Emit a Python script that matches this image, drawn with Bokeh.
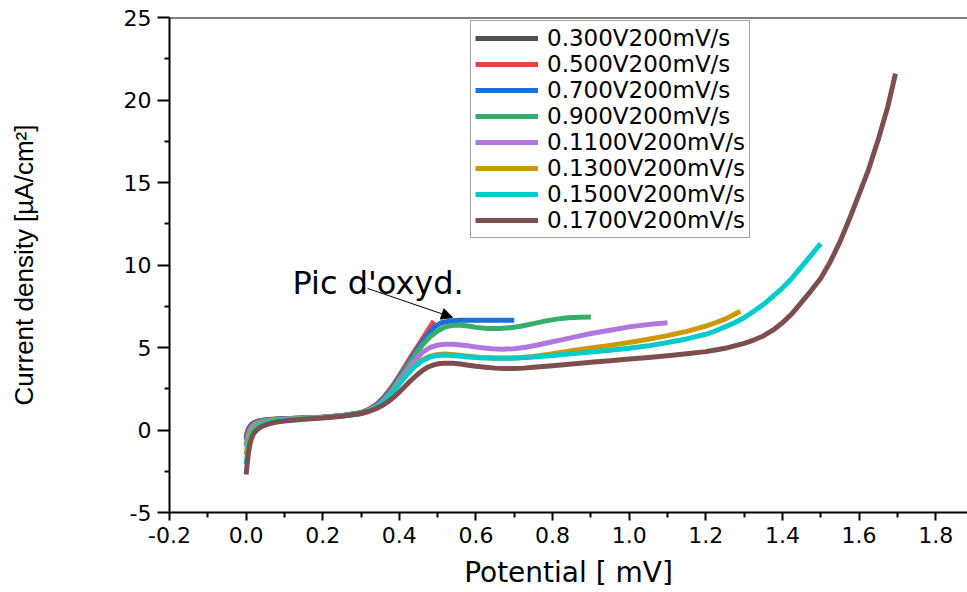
from bokeh.plotting import figure
from bokeh.models import (Range1d, Span, Arrow, NormalHead, Label, Legend, LegendItem,
                          FixedTicker, PrintfTickFormatter)
from bokeh.embed import file_html
from bokeh.resources import INLINE

# ---------------- data ----------------
labels = ["0.300V200mV/s", "0.500V200mV/s", "0.700V200mV/s", "0.900V200mV/s",
          "0.1100V200mV/s", "0.1300V200mV/s", "0.1500V200mV/s", "0.1700V200mV/s"]
colors = ["#515151", "#F14040", "#1A6FDF", "#37AD6B",
          "#B177DE", "#CC9900", "#00CBCC", "#7D4E4E"]

# common potentials of the start of every sweep
x_start = [0, 0.003, 0.006, 0.01, 0.015, 0.02, 0.03, 0.04, 0.06, 0.08, 0.1, 0.15, 0.2, 0.25]

x_03 = x_start + [0.3]
y_03 = [-0.4, -0.15, 0.05, 0.22, 0.35, 0.44, 0.53, 0.58, 0.63, 0.66, 0.68, 0.73, 0.78, 0.86,
        1.02]

x_05 = x_start + [0.3, 0.32, 0.34, 0.36, 0.38, 0.40, 0.42, 0.44, 0.46, 0.475, 0.49]
y_05 = [-0.5, -0.2, 0.02, 0.2, 0.33, 0.42, 0.52, 0.57, 0.62, 0.65, 0.68, 0.73, 0.78, 0.86,
        1.05, 1.25, 1.55, 2.0, 2.6, 3.3, 4.05, 4.8, 5.5, 6.05, 6.6]

x_07 = x_start + [0.3, 0.32, 0.34, 0.36, 0.38, 0.40, 0.42, 0.44, 0.46, 0.48, 0.495, 0.51,
                  0.53, 0.56, 0.6, 0.65, 0.7]
y_07 = [-0.6, -0.28, -0.02, 0.18, 0.32, 0.41, 0.51, 0.57, 0.62, 0.65, 0.68, 0.73, 0.78, 0.86,
        1.05, 1.22, 1.5, 1.95, 2.5, 3.2, 3.9, 4.65, 5.35, 5.95, 6.3, 6.5,
        6.6, 6.65, 6.65, 6.65, 6.65]

x_09 = x_start + [0.3, 0.32, 0.34, 0.36, 0.38, 0.40, 0.42, 0.44, 0.46, 0.48, 0.5, 0.52,
                  0.54, 0.56, 0.58, 0.6, 0.63, 0.66, 0.69, 0.72, 0.75, 0.78, 0.81, 0.84,
                  0.87, 0.9]
y_09 = [-0.9, -0.5, -0.2, 0.05, 0.22, 0.33, 0.46, 0.53, 0.6, 0.64, 0.67, 0.72, 0.78, 0.86,
        1.05, 1.2, 1.45, 1.85, 2.4, 3.1, 3.8, 4.5, 5.15, 5.65, 6.0, 6.25,
        6.35, 6.35, 6.3, 6.22, 6.15, 6.15, 6.2, 6.3, 6.45, 6.6, 6.72, 6.8,
        6.83, 6.85]

x_11 = x_start + [0.3, 0.32, 0.34, 0.36, 0.38, 0.40, 0.42, 0.44, 0.46, 0.48, 0.5, 0.52,
                  0.54, 0.56, 0.58, 0.61, 0.64, 0.67, 0.70, 0.73, 0.76, 0.8, 0.85, 0.9,
                  0.95, 1.0, 1.05, 1.1]
y_11 = [-1.0, -0.6, -0.3, -0.02, 0.17, 0.29, 0.43, 0.51, 0.58, 0.62, 0.65, 0.71, 0.77, 0.85,
        1.0, 1.18, 1.42, 1.8, 2.3, 2.95, 3.6, 4.2, 4.7, 5.0, 5.15, 5.2,
        5.2, 5.15, 5.1, 5.0, 4.93, 4.9, 4.93, 5.02, 5.15, 5.35, 5.6, 5.85,
        6.05, 6.25, 6.4, 6.5]

x_13 = x_start + [0.3, 0.32, 0.34, 0.36, 0.38, 0.40, 0.42, 0.44, 0.46, 0.48, 0.5, 0.52,
                  0.55, 0.58, 0.61, 0.65, 0.7, 0.75, 0.8, 0.85, 0.9, 0.95, 1.0, 1.05,
                  1.1, 1.15, 1.2, 1.225, 1.25, 1.27, 1.29]
y_13 = [-1.5, -1.0, -0.6, -0.25, 0.0, 0.15, 0.33, 0.44, 0.54, 0.59, 0.63, 0.7, 0.76, 0.85,
        1.0, 1.17, 1.4, 1.75, 2.25, 2.85, 3.4, 3.9, 4.25, 4.48, 4.58, 4.6,
        4.55, 4.47, 4.4, 4.36, 4.36, 4.45, 4.62, 4.8, 4.97, 5.13, 5.3, 5.5,
        5.72, 5.98, 6.3, 6.5, 6.72, 6.95, 7.2]

x_15 = x_start + [0.3, 0.32, 0.34, 0.36, 0.38, 0.40, 0.42, 0.44, 0.46, 0.48, 0.5, 0.52,
                  0.55, 0.58, 0.61, 0.65, 0.7, 0.75, 0.8, 0.85, 0.9, 0.95, 1.0, 1.05,
                  1.1, 1.15, 1.2, 1.225, 1.25, 1.275, 1.3, 1.325, 1.35, 1.375, 1.4,
                  1.425, 1.45, 1.475, 1.5]
y_15 = [-2.1, -1.5, -1.0, -0.55, -0.2, 0.0, 0.22, 0.36, 0.49, 0.56, 0.6, 0.68, 0.75, 0.85,
        1.0, 1.15, 1.38, 1.72, 2.2, 2.8, 3.35, 3.85, 4.2, 4.42, 4.52, 4.55,
        4.5, 4.43, 4.38, 4.35, 4.35, 4.42, 4.52, 4.62, 4.72, 4.83, 4.95, 5.1,
        5.3, 5.52, 5.8, 6.0, 6.25, 6.5, 6.8, 7.2, 7.6, 8.1, 8.6,
        9.2, 9.9, 10.6, 11.3]

x_17 = x_start + [0.27, 0.3, 0.32, 0.34, 0.355, 0.37, 0.385, 0.4, 0.415, 0.43, 0.445, 0.46,
                  0.475, 0.49, 0.505, 0.52, 0.54, 0.56, 0.58, 0.6, 0.625, 0.65, 0.675,
                  0.7, 0.725, 0.75, 0.8, 0.85, 0.9, 0.95, 1.0, 1.05, 1.1, 1.15, 1.2,
                  1.225, 1.25, 1.275, 1.3, 1.325, 1.35, 1.375, 1.4, 1.425, 1.45, 1.475,
                  1.5, 1.525, 1.55, 1.575, 1.6, 1.625, 1.65, 1.675, 1.695]
y_17 = [-2.7, -2.0, -1.4, -0.85, -0.45, -0.2, 0.05, 0.2, 0.38, 0.48, 0.55, 0.65, 0.73, 0.84,
        0.9, 1.0, 1.12, 1.3, 1.48, 1.7, 1.98, 2.3, 2.65, 3.0, 3.32, 3.6,
        3.82, 3.95, 4.03, 4.05, 4.04, 4.0, 3.93, 3.86, 3.8, 3.75, 3.72,
        3.72, 3.75, 3.8, 3.9, 4.0, 4.1, 4.2, 4.3, 4.4, 4.5, 4.62, 4.75,
        4.85, 4.95, 5.1, 5.25, 5.45, 5.7, 6.05, 6.5, 7.05, 7.75, 8.45,
        9.2, 10.2, 11.4, 12.8, 14.3, 15.8, 17.6, 19.6, 21.6]

xs = [x_03, x_05, x_07, x_09, x_11, x_13, x_15, x_17]
ys = [y_03, y_05, y_07, y_09, y_11, y_13, y_15, y_17]

x_ticks = [-0.2, 0.0, 0.2, 0.4, 0.6, 0.8, 1.0, 1.2, 1.4, 1.6, 1.8]
x_minor = [-0.1, 0.1, 0.3, 0.5, 0.7, 0.9, 1.1, 1.3, 1.5, 1.7]
y_ticks = [-5, 0, 5, 10, 15, 20, 25]
y_minor = [-2.5, 2.5, 7.5, 12.5, 17.5, 22.5]

# ---------------- figure ----------------
p = figure(width=967, height=592, x_range=Range1d(-0.2, 1.883), y_range=Range1d(-5, 25),
           output_backend="svg", toolbar_location=None,
           min_border_left=169, min_border_right=0, min_border_top=17, min_border_bottom=80)
p.xgrid.visible = False
p.ygrid.visible = False
p.outline_line_color = None
p.background_fill_color = "white"
p.border_fill_color = "white"

items = []
for x, y, c, lab in zip(xs, ys, colors, labels):
    r = p.line(x, y, line_color=c, line_width=5, line_join="round")
    items.append(LegendItem(label=lab, renderers=[r]))

# axes
for ax in (p.xaxis[0], p.yaxis[0]):
    ax.axis_line_width = 2
    ax.axis_line_color = "black"
    ax.major_tick_line_width = 2
    ax.minor_tick_line_width = 2
    ax.major_tick_in = 0
    ax.minor_tick_in = 0
    ax.major_label_text_color = "black"
    ax.axis_label_text_color = "black"
    ax.axis_label_text_font_style = "normal"

p.xaxis[0].ticker = FixedTicker(ticks=x_ticks, minor_ticks=x_minor)
p.xaxis[0].formatter = PrintfTickFormatter(format="%.1f")
p.xaxis[0].major_tick_out = 8
p.xaxis[0].minor_tick_out = 5
p.xaxis[0].major_label_text_font = "DejaVu Sans"
p.xaxis[0].major_label_text_font_size = "22px"
p.xaxis[0].major_label_standoff = 6
p.xaxis[0].axis_label = "Potential [ mV]"
p.xaxis[0].axis_label_text_font = "DejaVu Sans"
p.xaxis[0].axis_label_text_font_size = "28px"
p.xaxis[0].axis_label_standoff = 10

p.yaxis[0].ticker = FixedTicker(ticks=y_ticks, minor_ticks=y_minor)
p.yaxis[0].formatter = PrintfTickFormatter(format="%d")
p.yaxis[0].major_tick_out = 12
p.yaxis[0].minor_tick_out = 5
p.yaxis[0].major_label_text_font = "DejaVu Sans"
p.yaxis[0].major_label_text_font_size = "22px"
p.yaxis[0].major_label_standoff = 6
p.yaxis[0].axis_label = "Current density [µA/cm²]"
p.yaxis[0].axis_label_text_font = "Liberation Sans"
p.yaxis[0].axis_label_text_font_size = "26px"
p.yaxis[0].axis_label_standoff = 82

# top frame line
p.add_layout(Span(location=25, dimension="width", line_color="black", line_width=2))

# annotation
p.add_layout(Arrow(end=NormalHead(size=11, fill_color="black", line_color="black", line_width=1),
                   x_start=0.317, y_start=8.58, x_end=0.539, y_end=6.82,
                   line_color="black", line_width=1))
p.add_layout(Label(x=0.121, y=8.88, text="Pic d'oxyd.", text_font="DejaVu Sans",
                   text_font_size="32px", text_color="black", text_baseline="alphabetic"))

legend = Legend(items=items, location=(301, 274))
legend.label_text_font = "DejaVu Sans"
legend.label_text_font_size = "23px"
legend.label_text_color = "black"
legend.glyph_width = 63
legend.glyph_height = 26
legend.label_height = 26
legend.spacing = 0
legend.padding = 4
legend.margin = 0
legend.label_standoff = 9
legend.border_line_color = "#444444"
legend.border_line_width = 1
legend.background_fill_color = "white"
legend.background_fill_alpha = 1
p.add_layout(legend)

open("out.html", "w").write(file_html(p, INLINE))
